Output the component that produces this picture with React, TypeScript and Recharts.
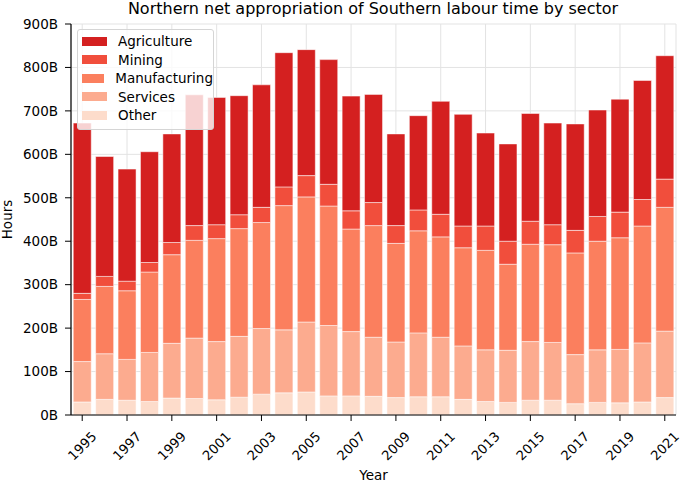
import React from 'react';
import { BarChart, Bar, XAxis, YAxis, CartesianGrid, Legend } from 'recharts';

const years = [
  '1995', '1996', '1997', '1998', '1999', '2000', '2001', '2002', '2003',
  '2004', '2005', '2006', '2007', '2008', '2009', '2010', '2011', '2012',
  '2013', '2014', '2015', '2016', '2017', '2018', '2019', '2020', '2021',
];

// billions of hours
const other = [30, 36, 34, 31, 39, 38, 35, 41, 48, 51, 53, 44, 44, 43, 40, 42, 42, 36, 31, 29, 34, 34, 26, 29, 28, 30, 40];
const services = [93, 105, 94, 113, 126, 139, 134, 140, 151, 145, 161, 162, 148, 136, 128, 147, 137, 123, 119, 120, 135, 133, 113, 121, 123, 136, 153];
const manufacturing = [143, 155, 158, 185, 204, 225, 237, 248, 244, 286, 288, 275, 236, 257, 227, 235, 231, 226, 229, 198, 224, 225, 234, 250, 257, 269, 285];
const mining = [14, 23, 22, 22, 28, 34, 32, 32, 35, 43, 49, 50, 42, 53, 41, 48, 52, 50, 56, 53, 53, 46, 52, 57, 59, 61, 65];
const agriculture = [392, 276, 258, 255, 250, 301, 293, 274, 282, 309, 290, 287, 264, 249, 211, 217, 260, 257, 214, 224, 248, 234, 245, 245, 260, 274, 284];

const yTicks = [0, 100, 200, 300, 400, 500, 600, 700, 800, 900];

// stacking order, bottom to top
const sectors = [
  { key: 'Other', values: other, color: '#fddccb' },
  { key: 'Services', values: services, color: '#fcab8f' },
  { key: 'Manufacturing', values: manufacturing, color: '#fb7f5e' },
  { key: 'Mining', values: mining, color: '#f14e3c' },
  { key: 'Agriculture', values: agriculture, color: '#d42020' },
];

const data = years.map((year, i) => {
  const row: Record<string, string | number> = { year };
  sectors.forEach((s) => {
    row[s.key] = s.values[i];
  });
  return row;
});

const FONT = '"DejaVu Sans", sans-serif';

const YearTick = ({ x, y, payload }: any) => (
  <g transform={`translate(${x},${y + 23})`}>
    <text transform="rotate(-45)" textAnchor="middle" dy="0.35em" fontSize={13.2} fill="#000" fontFamily={FONT}>
      {payload.value}
    </text>
  </g>
);

const HoursLabel = ({ viewBox }: any) => {
  const cy = viewBox.y + viewBox.height / 2;
  return (
    <text x={12} y={cy} transform={`rotate(-90, 12, ${cy})`} textAnchor="middle" fontSize={13.5} fill="#000" fontFamily={FONT}>
      Hours
    </text>
  );
};

const SectorLegend = () => (
  <div
    style={{
      width: 135,
      padding: '2px 0 4px 0',
      border: '1px solid #d5d5d5',
      borderRadius: 3,
      background: 'rgba(255,255,255,0.8)',
      fontFamily: FONT,
      fontSize: 13.5,
    }}
  >
    {[...sectors].reverse().map((s) => (
      <div key={s.key} style={{ display: 'flex', alignItems: 'center', height: 18.5 }}>
        <span style={{ display: 'inline-block', width: 25, height: 9, marginLeft: 4, marginRight: 11, background: s.color }} />
        <span>{s.key}</span>
      </div>
    ))}
  </div>
);

export default function App() {
  return (
    <div style={{ position: 'absolute', left: 0, top: 0, width: 680, height: 482, background: '#fff' }}>
      <div
        style={{
          position: 'absolute',
          left: 0,
          top: 1,
          width: 746,
          textAlign: 'center',
          fontFamily: FONT,
          fontSize: 16,
          lineHeight: '16px',
          color: '#000',
        }}
      >
        Northern net appropriation of Southern labour time by sector
      </div>
      <BarChart
        width={680}
        height={482}
        data={data}
        margin={{ top: 24, right: 4, bottom: 0, left: 0 }}
        barCategoryGap="10%"
      >
        <CartesianGrid stroke="#e3e3e3" strokeWidth={1} />
        <XAxis
          dataKey="year"
          interval={1}
          height={67}
          tick={<YearTick />}
          tickSize={6}
          tickLine={{ stroke: '#000' }}
          axisLine={{ stroke: '#000', strokeWidth: 1.2 }}
          label={{ value: 'Year', position: 'insideBottom', offset: 2, fontSize: 13.5, fill: '#000', fontFamily: FONT }}
        />
        <XAxis xAxisId="top" orientation="top" height={0} tick={false} tickLine={false} axisLine={{ stroke: '#000', strokeWidth: 1.2 }} />
        <YAxis
          width={71}
          domain={[0, 900]}
          ticks={yTicks}
          tickFormatter={(v) => `${v}B`}
          tickSize={6}
          tickMargin={7}
          tick={{ fontSize: 13.5, fill: '#000', fontFamily: FONT }}
          tickLine={{ stroke: '#000' }}
          axisLine={{ stroke: '#000', strokeWidth: 1.2 }}
          label={<HoursLabel />}
        />
        <YAxis yAxisId="right" orientation="right" width={0} tick={false} tickLine={false} axisLine={{ stroke: '#000', strokeWidth: 1.2 }} />
        <Legend
          layout="vertical"
          align="center"
          verticalAlign="middle"
          content={<SectorLegend />}
          wrapperStyle={{ left: 77, top: 29, width: 137 }}
        />
        {sectors.map((s) => (
          <Bar
            key={s.key}
            dataKey={s.key}
            stackId="a"
            fill={s.color}
            stroke="#fff"
            strokeWidth={0.5}
            isAnimationActive={false}
          />
        ))}
      </BarChart>
    </div>
  );
}
